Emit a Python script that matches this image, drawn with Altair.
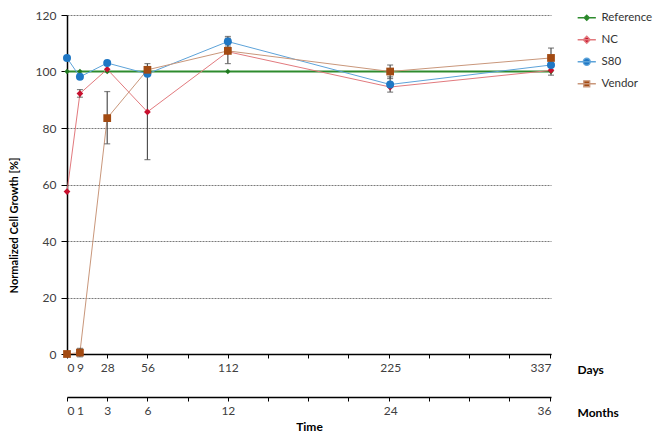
import altair as alt
import pandas as pd

# ---- data ----
days = [0, 9, 28, 56, 112, 225, 337]
months = [0, 1, 3, 6, 12, 24, 36]
series_names = ["Reference", "NC", "S80", "Vendor"]
reference_vals = [100, 100, 100, 100, 100, 100, 100]
nc_vals = [57.5, 92.2, 100.8, 85.7, 107.0, 94.5, 100.4]
s80_vals = [104.8, 98.1, 103.0, 99.2, 110.6, 95.4, 102.3]
vendor_vals = [0.0, 0.5, 83.5, 100.6, 107.3, 100.0, 104.8]

err_series = ["Vendor", "NC", "Vendor", "NC", "S80", "Vendor", "Vendor", "S80", "NC", "Vendor"]
err_day = [9, 9, 28, 56, 112, 112, 225, 225, 337, 337]
err_low = [-1.0, 90.9, 74.4, 68.8, 109.0, 102.8, 97.5, 92.7, 98.7, 101.5]
err_high = [2.0, 93.6, 92.9, 102.8, 112.4, 111.8, 102.3, 98.1, 102.1, 108.3]

minor_ticks = list(range(0, 337, 28))
y_ticks = [0, 20, 40, 60, 80, 100, 120]

line_colors = ["#2E8B2E", "#E27A7E", "#5DA3D9", "#C9977B"]
marker_colors = ["#1F7A1F", "#C8102E", "#1F77C4", "#A24A12"]
legend_paths = [
    "M-2.6,0H2.6M0,-0.75L0.75,0L0,0.75L-0.75,0Z",
    "M-2.6,0H2.6M0,-1L1,0L0,1L-1,0Z",
    "M-2.6,0H2.6M1,0A1,1,0,1,1,-1,0A1,1,0,1,1,1,0Z",
    "M-2.6,0H2.6M-0.85,-0.85H0.85V0.85H-0.85Z",
]

rows = []
for name, vals in zip(series_names, [reference_vals, nc_vals, s80_vals, vendor_vals]):
    for d, v in zip(days, vals):
        rows.append({"day": d, "series": name, "value": v})
df = pd.DataFrame(rows)
err_df = pd.DataFrame({"day": err_day, "series": err_series, "lo": err_low, "hi": err_high})

FONT = "Lato"
xs = alt.Scale(domain=[0, 337], nice=False, zero=False)
ys = alt.Scale(domain=[0, 120], nice=False)
stroke_scale = alt.Scale(domain=series_names, range=line_colors)
fill_scale = alt.Scale(domain=series_names, range=marker_colors)

month_expr = "''"
for d, m in reversed(list(zip(days, months))):
    month_expr = f"datum.value == {d} ? '{m}' : {month_expr}"

axis_days = alt.Axis(
    orient="bottom", values=days, ticks=False, tickSize=0, grid=False,
    domain=True, domainColor="black", domainWidth=1.5,
    labelFont=FONT, labelFontSize=12, labelColor="#404040", labelPadding=8,
    title="Days", titleFont=FONT, titleFontSize=12, titleFontWeight="bold",
    titleColor="black", titleX=510, titleY=15, titleAlign="left", titleBaseline="middle",
)
axis_day_ticks = alt.Axis(
    orient="bottom", values=minor_ticks, labels=False, ticks=True, tickSize=4,
    tickColor="black", domain=False, grid=False, title=None,
)
axis_months = alt.Axis(
    orient="bottom", offset=43, values=days, labelExpr=month_expr, ticks=False, tickSize=0,
    grid=False, domain=True, domainColor="black", domainWidth=1.5,
    labelFont=FONT, labelFontSize=12, labelColor="#404040", labelPadding=8,
    title="Months", titleFont=FONT, titleFontSize=12, titleFontWeight="bold",
    titleColor="black", titleX=510, titleY=15, titleAlign="left", titleBaseline="middle",
)
axis_month_ticks = alt.Axis(
    orient="bottom", offset=43, values=minor_ticks, labels=False, ticks=True, tickSize=4,
    tickColor="black", domain=False, grid=False,
    title="Time", titleFont=FONT, titleFontSize=12, titleFontWeight="bold",
    titleColor="black", titleX=242, titleY=29, titleAlign="center", titleBaseline="middle",
)
y_axis = alt.Axis(
    values=y_ticks, grid=True, gridDash=[2, 1], gridColor="#7a7a7a", gridWidth=1,
    domainColor="black", domainWidth=1.5, tickColor="black", tickSize=6,
    labelFont=FONT, labelFontSize=12, labelColor="#404040", labelPadding=5,
    title="Normalized Cell Growth [%]", titleFont=FONT, titleFontSize=11,
    titleFontWeight="bold", titleColor="black", titleAngle=270,
    titleX=-53, titleY=210, titleAlign="center", titleBaseline="middle",
)
leg = alt.Legend(
    title=None, orient="none", legendX=514, legendY=-3,
    symbolSize=49, symbolStrokeWidth=1.3, labelOffset=9, rowPadding=9,
    labelFont=FONT, labelFontSize=11.5, labelColor="#333333", padding=0,
)

base = alt.Chart(df)
Y = alt.Y("value:Q", scale=ys, axis=y_axis)

lines_ref = base.transform_filter("datum.series == 'Reference'").mark_line(strokeWidth=2).encode(
    x=alt.X("day:Q", scale=xs, axis=axis_days),
    y=Y,
    stroke=alt.Stroke("series:N", scale=stroke_scale, legend=leg),
)
lines_other = base.transform_filter("datum.series != 'Reference'").mark_line(strokeWidth=1).encode(
    x=alt.X("day:Q", scale=xs, axis=None),
    y=Y,
    stroke=alt.Stroke("series:N", scale=stroke_scale, legend=leg),
)

errs = alt.Chart(err_df).mark_errorbar(
    ticks={"size": 6, "color": "#505050"}, color="#505050", thickness=1.2
).encode(
    x=alt.X("day:Q", scale=xs, axis=axis_day_ticks),
    y=alt.Y("lo:Q", scale=ys, axis=y_axis),
    y2="hi:Q",
)

def pts(name, shape, size, axis):
    return base.transform_filter(f"datum.series == '{name}'").mark_point(
        filled=True, shape=shape, size=size, opacity=1, strokeWidth=0
    ).encode(
        x=alt.X("day:Q", scale=xs, axis=axis),
        y=Y,
        fill=alt.Fill("series:N", scale=fill_scale, legend=leg),
    )

pts_ref = pts("Reference", "diamond", 28, axis_months)
pts_nc = pts("NC", "diamond", 45, None)
pts_s80 = pts("S80", "circle", 64, None)
pts_ven = pts("Vendor", "square", 60, None)

legend_layer = base.transform_filter("false").mark_point(filled=True, opacity=1).encode(
    x=alt.X("day:Q", scale=xs, axis=axis_month_ticks),
    y=Y,
    fill=alt.Fill("series:N", scale=fill_scale, legend=leg),
    stroke=alt.Stroke("series:N", scale=stroke_scale, legend=leg),
    shape=alt.Shape("series:N", scale=alt.Scale(domain=series_names, range=legend_paths), legend=leg),
)

chart = alt.layer(
    lines_ref, lines_other, errs, pts_ref, pts_nc, pts_s80, pts_ven, legend_layer
).resolve_axis(x="independent").properties(
    width=484, height=339,
    autosize=alt.AutoSizeParams(type="none"),
    padding={"left": 59, "top": 7, "right": 108, "bottom": 78},
    background="white",
).configure_view(stroke=None)

chart.save("out.html", embed_options={"renderer": "svg", "actions": False})
